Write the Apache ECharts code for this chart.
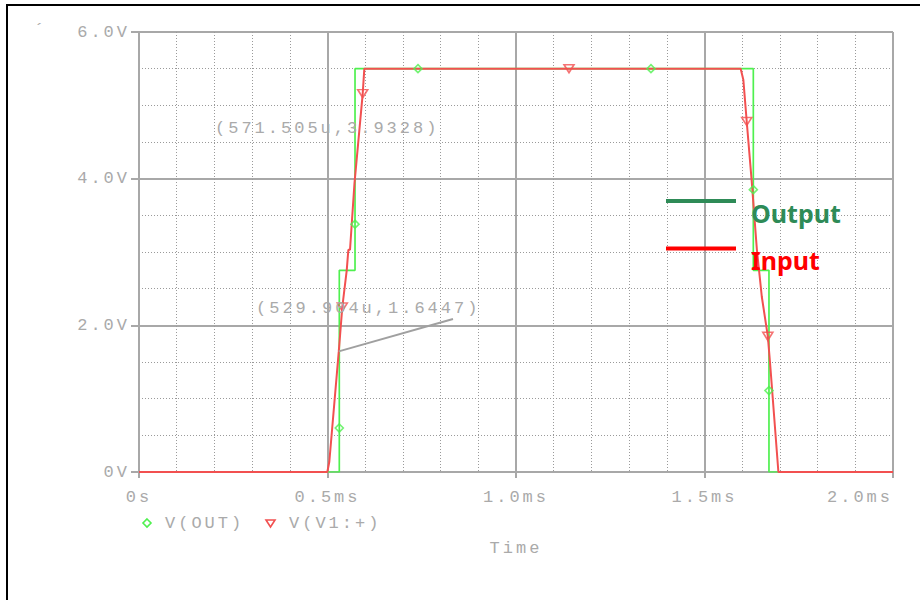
<!DOCTYPE html>
<html>
<head>
<meta charset="utf-8">
<script src="https://cdn.jsdelivr.net/npm/echarts@6/dist/echarts.min.js"></script>
<style>
  html, body { margin: 0; padding: 0; background: #ffffff; }
  #chart { width: 920px; height: 600px; }
  /* wide-set monospace lettering for the probe texts */
  #chart text[style*="Mono"] { letter-spacing: 3px; }
</style>
</head>
<body>
<div id="chart"></div>
<script>
// Transient run, time in ms, voltage in V
const outTime = [0, 0.5313, 0.5313, 0.5313, 0.573, 0.573, 0.573, 0.740, 1.358, 1.6295, 1.6295, 1.6295, 1.671, 1.671, 1.671, 2.0];
const outVolt = [0, 0, 0.60, 2.75, 2.75, 3.38, 5.5, 5.5, 5.5, 5.5, 3.85, 2.75, 2.75, 1.11, 0, 0];
const outMarkIdx = [2, 5, 7, 8, 10, 13];

const inTime = [0, 0.4995, 0.5048, 0.529904, 0.5393, 0.551, 0.5553, 0.5597, 0.571505, 0.5934, 0.5977, 1.1406, 1.596, 1.603, 1.612, 1.625, 1.639, 1.652, 1.668, 1.674, 1.696, 2.0];
const inVolt = [0, 0, 0.14, 1.6447, 2.25, 2.75, 3.03, 3.03, 3.9328, 5.16, 5.5, 5.5, 5.5, 5.35, 4.78, 3.98, 3.03, 2.39, 1.85, 1.48, 0, 0];
const inMarkIdx = [4, 9, 11, 14, 18];

// cursor readouts on the input trace
const cursorTime = [0.571505, 0.529904];
const cursorVolt = [3.9328, 1.6447];

const xTicks = [0, 0.5, 1.0, 1.5, 2.0];
const xTickLabels = ['0s', '0.5ms', '1.0ms', '1.5ms', '2.0ms'];
const yTickLabels = ['0V', '2.0V', '4.0V', '6.0V'];

const traceNames = ['V(OUT)', 'V(V1:+)'];
const boxNames = ['Output', 'Input'];

const GREEN = '#4ff04f';
const RED = '#f25050';
const GREY = '#a8a8a8';
const TXT = '#aaaaaa';
const MONO = '"Liberation Mono", "DejaVu Sans Mono", monospace';

const chart = echarts.init(document.getElementById('chart'), null, { renderer: 'svg' });

const pairs = (t, v) => t.map((x, i) => [x, v[i]]);

chart.setOption({
  animation: false,
  backgroundColor: '#ffffff',
  grid: { left: 139, right: 27, top: 32, bottom: 128, outerBoundsMode: 'none', containLabel: false },
  xAxis: {
    type: 'value', min: 0, max: 2.0, interval: 0.5,
    name: 'Time', nameLocation: 'middle', nameGap: 68,
    nameTextStyle: { color: TXT, fontFamily: MONO, fontSize: 17 },
    axisLine: { show: true, onZero: false, lineStyle: { color: GREY, width: 2 } },
    axisTick: { show: true, length: 6, lineStyle: { color: GREY, width: 2 } },
    axisLabel: {
      color: TXT, fontFamily: MONO, fontSize: 17, margin: 17,
      alignMaxLabel: 'right',
      formatter: (v) => xTickLabels[xTicks.findIndex(t => Math.abs(t - v) < 1e-9)] || ''
    },
    splitLine: { show: true, lineStyle: { color: GREY, width: 2 } },
    minorTick: { show: false, splitNumber: 5 },
    minorSplitLine: { show: true, lineStyle: { color: '#9a9a9a', width: 1, type: [1, 2] } }
  },
  yAxis: {
    type: 'value', min: 0, max: 6, interval: 2,
    axisLine: { show: true, onZero: false, lineStyle: { color: GREY, width: 2 } },
    axisTick: { show: true, length: 8, lineStyle: { color: GREY, width: 2 } },
    axisLabel: {
      color: TXT, fontFamily: MONO, fontSize: 17, margin: 9,
      formatter: (v) => yTickLabels[Math.round(v / 2)]
    },
    splitLine: { show: true, lineStyle: { color: GREY, width: 2 } },
    minorTick: { show: false, splitNumber: 4 },
    minorSplitLine: { show: true, lineStyle: { color: '#9a9a9a', width: 1, type: [1, 2] } }
  },
  series: [
    {
      name: traceNames[0], type: 'line', data: pairs(outTime, outVolt),
      showSymbol: false, lineStyle: { color: GREEN, width: 1.7 }, z: 3
    },
    {
      name: traceNames[1], type: 'line', data: pairs(inTime, inVolt),
      showSymbol: false, lineStyle: { color: RED, width: 2 }, z: 4
    },
    {
      name: traceNames[0] + ' marks', type: 'scatter',
      data: outMarkIdx.map(i => [outTime[i], outVolt[i]]),
      symbol: 'diamond', symbolSize: [8, 8],
      itemStyle: { color: 'rgba(0,0,0,0)', borderColor: GREEN, borderWidth: 1.6 }, z: 5
    },
    {
      name: traceNames[1] + ' marks', type: 'scatter',
      data: inMarkIdx.map(i => [inTime[i], inVolt[i]]),
      symbol: 'triangle', symbolRotate: 180, symbolSize: [10, 8],
      itemStyle: { color: 'rgba(0,0,0,0)', borderColor: RED, borderWidth: 1.6 }, z: 6
    }
  ]
});

// cursor readout texts and the leader line of the second cursor
const cursorText = (i) => '(' + (cursorTime[i] * 1000).toFixed(3) + 'u,' + cursorVolt[i].toFixed(4) + ')';
const p2 = chart.convertToPixel({ gridIndex: 0 }, [cursorTime[1], cursorVolt[1]]);

const monoText = (text, x, y, align) => ({
  type: 'text', z: 20,
  style: { text, x, y, fill: TXT, font: '17px ' + MONO, textAlign: align || 'left', textVerticalAlign: 'middle' }
});

chart.setOption({
  graphic: [
    // page frame
    { type: 'line', z: 30, shape: { x1: 7, y1: 5, x2: 925, y2: 5 }, style: { stroke: '#000', lineWidth: 2 } },
    { type: 'line', z: 30, shape: { x1: 7, y1: 4, x2: 7, y2: 605 }, style: { stroke: '#000', lineWidth: 2 } },
    monoText('\u00b4', 34, 30),
    // cursor readouts
    monoText(cursorText(0), 215, 128),
    monoText(cursorText(1), 256, 308),
    { type: 'line', z: 20, shape: { x1: p2[0], y1: p2[1], x2: 453, y2: 319 }, style: { stroke: '#a0a0a0', lineWidth: 2 } },
    // trace legend under the axis
    { type: 'polygon', z: 20, shape: { points: [[147, 519], [151, 523], [147, 527], [143, 523]] },
      style: { fill: 'none', stroke: GREEN, lineWidth: 1.6 } },
    monoText(traceNames[0], 165, 523),
    { type: 'polygon', z: 20, shape: { points: [[266, 520], [275, 520], [270.5, 527]] },
      style: { fill: 'none', stroke: RED, lineWidth: 1.6 } },
    monoText(traceNames[1], 289, 523),
    // boxed labels inside the plot
    { type: 'line', z: 20, shape: { x1: 666, y1: 201, x2: 736, y2: 201 }, style: { stroke: '#2e8b57', lineWidth: 4 } },
    { type: 'text', z: 20, style: { text: boxNames[0], x: 751, y: 213, fill: '#2e8b57',
      font: 'bold 25px "Noto Sans", "Liberation Sans", sans-serif', textVerticalAlign: 'middle' } },
    { type: 'line', z: 20, shape: { x1: 666, y1: 248.5, x2: 736, y2: 248.5 }, style: { stroke: '#ff0000', lineWidth: 4 } },
    { type: 'text', z: 20, style: { text: boxNames[1], x: 751, y: 260, fill: '#ff0000',
      font: 'bold 25px "Noto Sans", "Liberation Sans", sans-serif', textVerticalAlign: 'middle' } }
  ]
});
</script>
</body>
</html>
